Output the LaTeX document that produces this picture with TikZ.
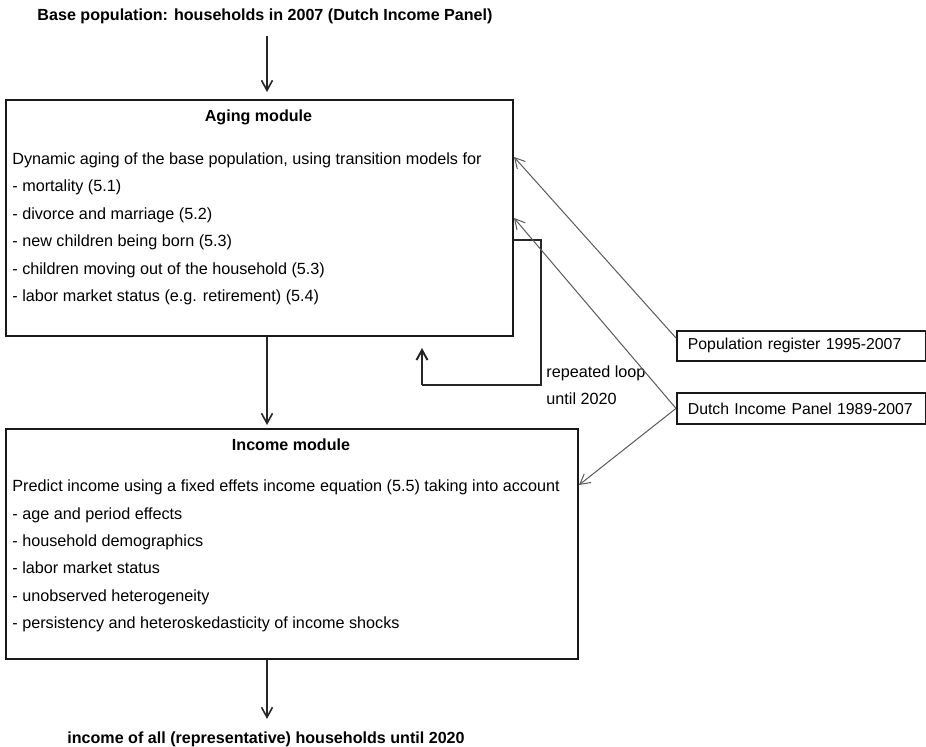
\documentclass[tikz,border=0pt]{standalone}
\usepackage{fontspec}
\setmainfont{Liberation Sans}
\usetikzlibrary{arrows.meta, positioning}
\tikzset{
    % Boxes
    modulebox/.style={
        rectangle,
        draw=black!90,
        line width=1pt,
        anchor=north west,
        inner sep=0pt
    },
    sourcebox/.style={
        rectangle,
        draw=black!90,
        line width=0.9pt,
        anchor=north west,
        inner xsep=5.5pt,
        inner ysep=0pt,
        text width=113.5pt,
        align=left,
        minimum height=15.5pt,
        font=\fontsize{7.9}{10}\selectfont
    },
    % Texts
    headtext/.style={
        inner sep=0pt,
        anchor=base,
        font=\fontsize{8.05}{10}\selectfont\bfseries
    },
    itemtext/.style={
        inner sep=0pt,
        anchor=base west,
        font=\fontsize{8.1}{10}\selectfont
    },
    % Arrows
    mainarrow/.style={
        -{Straight Barb[length=5pt,width=5.5pt]},
        line width=0.8pt,
        black!85
    },
    dataarrow/.style={
        -{Straight Barb[length=5pt,width=5.5pt]},
        line width=0.5pt,
        black!65
    },
    loopline/.style={
        line width=1pt,
        black!85
    }
}
\begin{document}
\begin{tikzpicture}[x=0.5pt, y=-0.5pt]
    \useasboundingbox (0,0) rectangle (926,747);

    % Input and output
    \node[headtext] (basepop) at (265,21) {Base population: households in 2007 (Dutch Income Panel)};
    \node[headtext] (result) at (266,743) {income of all (representative) households until 2020};
    \coordinate (spine) at (267,0);

    % Aging module
    \node[modulebox, minimum width=253.5pt, minimum height=118pt] (aging) at (5,99) {};
    \node[headtext] (agingtitle) at (258.5,121.5) {Aging module};
    \node[itemtext] (ag0) at (12,165) {Dynamic aging of the base population, using transition models for};
    \node[itemtext] (ag1) at (12,192) {- mortality (5.1)};
    \node[itemtext] (ag2) at (12,220) {- divorce and marriage (5.2)};
    \node[itemtext] (ag3) at (12,247) {- new children being born (5.3)};
    \node[itemtext] (ag4) at (12,275) {- children moving out of the household (5.3)};
    \node[itemtext] (ag5) at (12,302) {- labor market status (e.g. retirement) (5.4)};

    % Income module
    \node[modulebox, minimum width=286pt, minimum height=115pt] (income) at (5,428) {};
    \node[headtext] (incometitle) at (291,450.5) {Income module};
    \node[itemtext] (in0) at (12,492) {Predict income using a fixed effets income equation (5.5) taking into account};
    \node[itemtext] (in1) at (12,520) {- age and period effects};
    \node[itemtext] (in2) at (12,547) {- household demographics};
    \node[itemtext] (in3) at (12,574) {- labor market status};
    \node[itemtext] (in4) at (12,602) {- unobserved heterogeneity};
    \node[itemtext] (in5) at (12,629) {- persistency and heteroskedasticity of income shocks};

    % Data sources
    \node[sourcebox, minimum height=15pt] (popreg) at (676,330) {Population register 1995-2007};
    \node[sourcebox] (panel) at (676,392) {Dutch Income Panel 1989-2007};

    % Loop
    \coordinate (loopA) at (541,240);
    \coordinate (loopB) at (422,385);
    \draw[loopline] (loopA -| aging.east) -- (loopA) -- (loopA |- loopB) -- (loopB);
    \draw[loopline, -{Straight Barb[length=5pt,width=5.5pt]}, shorten >=5.5pt] (loopB) -- (loopB |- aging.south);
    \node[itemtext] (looplabel) at (546,378) {repeated loop};
    \node[itemtext] (loopyear) at (546,405) {until 2020};

    % Main flow
    \draw[mainarrow, shorten <=5.5pt, shorten >=3.5pt] (spine |- basepop.south) -- (spine |- aging.north);
    \draw[mainarrow, shorten >=1.5pt] (spine |- aging.south) -- (spine |- income.north);
    \draw[mainarrow, shorten >=6pt] (spine |- income.south) -- (spine |- result.north);

    % Data arrows
    \draw[dataarrow] ([yshift=-4pt]popreg.north west) -- ([yshift=-29pt]aging.north east);
    \draw[dataarrow] (panel.west) -- ([yshift=-59.5pt]aging.north east);
    \draw[dataarrow] (panel.west) -- ([yshift=-28.5pt]income.north east);
\end{tikzpicture}
\end{document}
